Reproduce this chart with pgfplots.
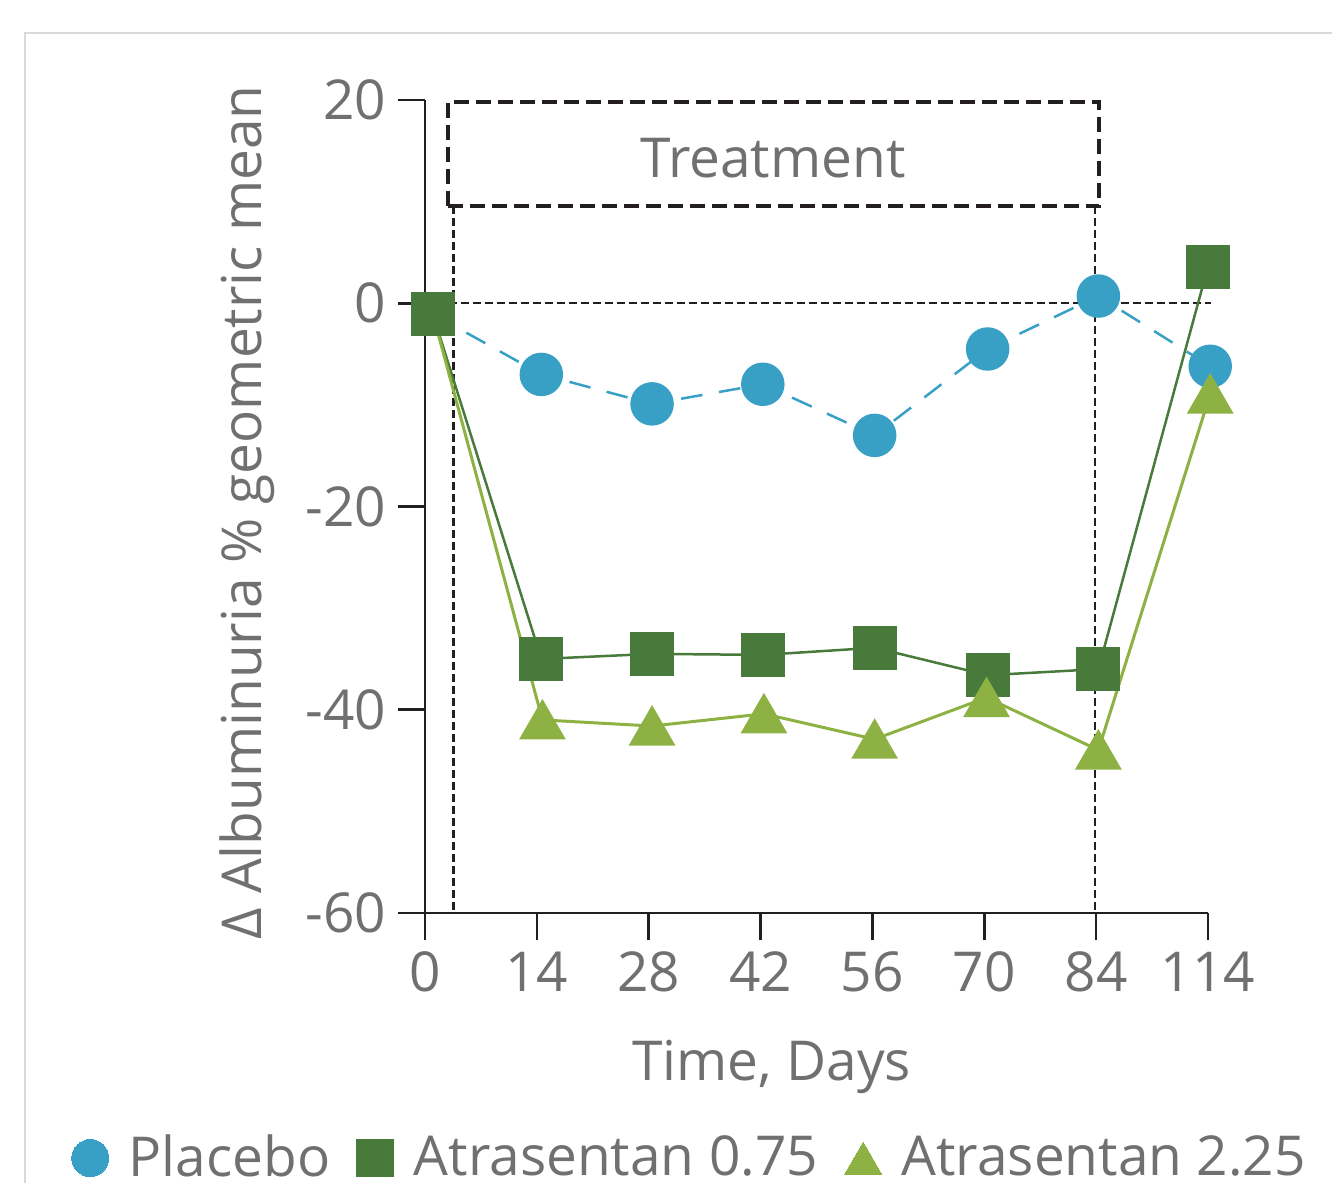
\documentclass[border=0pt]{standalone}
\usepackage{pgfplots}
\pgfplotsset{compat=1.18}
\usepackage{fontspec}
\setmainfont{Open Sans}
\definecolor{placebo}{RGB}{57,160,197}
\definecolor{dgreen}{RGB}{72,122,60}
\definecolor{lgreen}{RGB}{141,178,67}
\definecolor{txtgrey}{RGB}{112,112,112}
\definecolor{axgrey}{RGB}{35,31,32}
\definecolor{framegrey}{RGB}{217,217,217}
\newcommand{\chartfont}{\fontsize{16.5pt}{19.8pt}\selectfont}
\begin{document}
\begin{tikzpicture}
\useasboundingbox (-127.5pt,-80.7pt) rectangle (272.1pt,273.9pt);
\draw[framegrey, line width=0.6pt] (-120pt,-82pt) -- (-120pt,264pt) -- (274pt,264pt);
\begin{axis}[
  at={(0pt,0pt)}, anchor=south west,
  scale only axis, width=234.9pt, height=243.9pt,
  xmin=0, xmax=7, ymin=-60, ymax=20,
  clip=false,
  axis x line*=bottom, axis y line*=left,
  axis line style={axgrey, line width=0.8pt, -},
  xtick={0,1,2,3,4,5,6,7}, xticklabels={0,14,28,42,56,70,84,114},
  ytick={-60,-40,-20,0,20}, yticklabels={-60,-40,-20,0,20},
  tick align=outside, major tick length=8.1pt,
  tick style={axgrey, line width=0.8pt},
  tick label style={font=\chartfont, text=txtgrey},
  label style={font=\chartfont, text=txtgrey},
  xlabel={Time, Days},
  xlabel style={at={(axis description cs:0.443,-0.2054)}, anchor=base},
  ylabel={Δ Albuminuria \% geometric mean},
  ylabel style={at={(axis description cs:-0.2094,0.4926)}, anchor=base},
  legend columns=3,
  legend style={draw=none, fill=none, font=\chartfont, text=txtgrey,
    at={(axis description cs:-0.452,-0.3014)}, anchor=west, inner sep=0pt,
    /tikz/every odd column/.append style={column sep=4pt},
    /tikz/every even column/.append style={column sep=6pt}},
  legend image code/.code={\draw[#1, only marks] plot coordinates {(0pt,0pt)};},
]
% annotations
\draw[axgrey, line width=0.7pt, dash pattern=on 2.4pt off 1.2pt] (axis cs:0,0) -- (axis cs:7.03,0);
\draw[axgrey, line width=0.75pt, dash pattern=on 2.4pt off 1.2pt] (axis cs:0.253,9.6) -- (axis cs:0.253,-60);
\draw[axgrey, line width=0.75pt, dash pattern=on 2.4pt off 1.2pt] (axis cs:5.99,9.6) -- (axis cs:5.99,-60);
\draw[axgrey, line width=1.2pt, dash pattern=on 4.5pt off 2.1pt] (axis cs:0.208,9.6) rectangle (axis cs:6.03,19.83);
\node[anchor=base, font=\chartfont, text=txtgrey] at (axis cs:3.11,12.42) {Treatment};

\addplot[forget plot, placebo, line width=0.75pt, dash pattern=on 6.5pt off 5pt,
  mark=*, mark size=6.15pt, mark options={solid, fill=placebo, draw=none}]
  coordinates {(0.07,-1.06) (1.04,-7.0) (2.03,-9.9) (3.02,-7.97) (4.02,-13.0) (5.03,-4.5) (6.02,0.71) (7.02,-6.2)};
\addplot[forget plot, dgreen, line width=0.75pt,
  mark=square*, mark size=6.2pt, mark options={solid, fill=dgreen, draw=none}]
  coordinates {(0.07,-1.06) (1.04,-35.0) (2.03,-34.5) (3.02,-34.6) (4.02,-33.9) (5.03,-36.6) (6.02,-36.0) (7.0,3.6)};
\addplot[forget plot, lgreen, line width=0.9pt,
  mark=triangle*, mark size=7.2pt, mark indices={2,3,4,5,6,7,8},
  mark options={solid, fill=lgreen, draw=none, yshift=-1.8pt}]
  coordinates {(0.07,-1.06) (1.05,-41.0) (2.03,-41.6) (3.03,-40.4) (4.02,-42.9) (5.02,-38.8) (6.02,-43.96) (7.02,-8.93)};

\addlegendimage{only marks, color=placebo, mark=*, mark size=5.55pt, mark options={fill=placebo, draw=placebo, line width=0pt}}
\addlegendentry{Placebo}
\addlegendimage{only marks, color=dgreen, mark=square*, mark size=5.55pt, mark options={fill=dgreen, draw=dgreen, line width=0pt}}
\addlegendentry{Atrasentan 0.75}
\addlegendimage{only marks, color=lgreen, mark=triangle*, mark size=6.4pt, mark options={fill=lgreen, draw=lgreen, line width=0pt, yshift=-1.6pt}}
\addlegendentry{Atrasentan 2.25}
\end{axis}
\end{tikzpicture}
\end{document}
